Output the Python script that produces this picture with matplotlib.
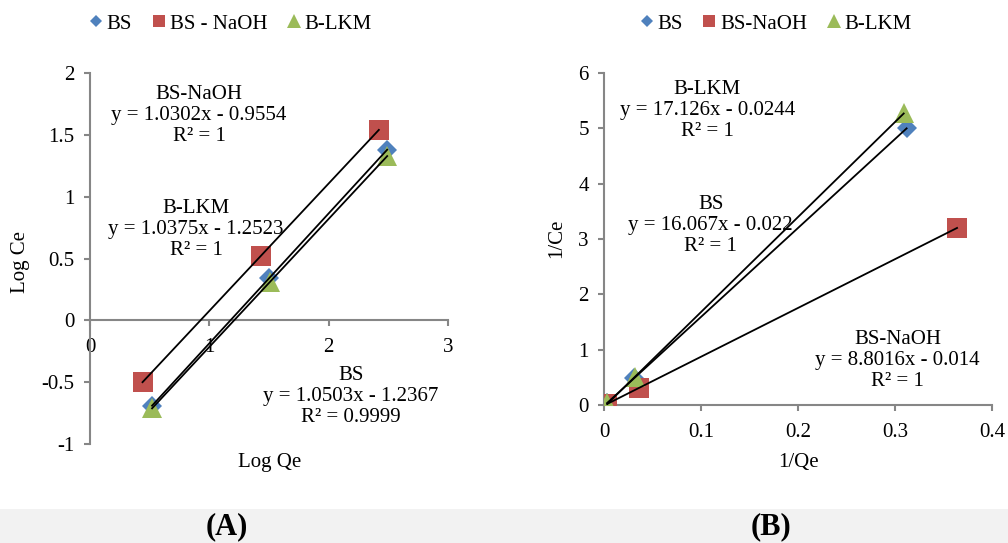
import numpy as np
import matplotlib
matplotlib.use("Agg")
import matplotlib.pyplot as plt
from matplotlib.lines import Line2D
from matplotlib.patches import Rectangle

plt.rcParams['font.family'] = ['Liberation Serif', 'DejaVu Serif']
plt.rcParams['font.size'] = 15

# (A) Freundlich: log Ce vs log Qe
log_qe_bs = [0.52, 1.50, 2.49]
log_ce_bs = [-0.69, 0.34, 1.38]
log_qe_naoh = [0.44, 1.43, 2.42]
log_ce_naoh = [-0.50, 0.52, 1.54]
log_qe_lkm = [0.52, 1.51, 2.49]
log_ce_lkm = [-0.71, 0.31, 1.33]

# (B) Langmuir: 1/Ce vs 1/Qe
inv_qe_bs = [0.0033, 0.031, 0.312]
inv_ce_bs = [0.04, 0.48, 5.00]
inv_qe_naoh = [0.0035, 0.036, 0.364]
inv_ce_naoh = [0.02, 0.31, 3.20]
inv_qe_lkm = [0.0033, 0.032, 0.309]
inv_ce_lkm = [0.03, 0.50, 5.27]

eq_a = {"BS-NaOH": "BS-NaOH\ny = 1.0302x - 0.9554\nR² = 1",
        "B-LKM": "B-LKM\ny = 1.0375x - 1.2523\nR² = 1",
        "BS": "BS\ny = 1.0503x - 1.2367\nR² = 0.9999"}
eq_b = {"B-LKM": "B-LKM\ny = 17.126x - 0.0244\nR² = 1",
        "BS": "BS\ny = 16.067x - 0.022\nR² = 1",
        "BS-NaOH": "BS-NaOH\ny = 8.8016x - 0.014\nR² = 1"}

blue = "#4F81BD"
red = "#C0504D"
green = "#9BBB59"
grey = "#868686"

fig = plt.figure(figsize=(10.08, 5.43), dpi=100)
fig.patches.append(Rectangle((0, 0), 1, 0.0626, transform=fig.transFigure,
                             facecolor="#f2f2f2", edgecolor="none", zorder=0))

ax1 = fig.add_axes([0.0893, 0.1823, 0.3552, 0.6832])
ax2 = fig.add_axes([0.5992, 0.2541, 0.3849, 0.6114])


def style_axes(ax):
    ax.patch.set_alpha(0)
    ax.spines['top'].set_visible(False)
    ax.spines['right'].set_visible(False)
    ax.spines['bottom'].set_position(('data', 0))
    for s in ['left', 'bottom']:
        ax.spines[s].set_color(grey)
        ax.spines[s].set_linewidth(1.5)
    ax.tick_params(colors=grey, labelcolor="black", length=4, width=1.5,
                   direction='out', pad=7)
    ax.tick_params(axis='x', pad=9)


def draw_series(ax, x, y, color, marker, ms):
    ax.plot(x, y, linestyle='none', marker=marker, markersize=ms,
            color=color, markeredgewidth=0, zorder=3)
    k, b = np.polyfit(x, y, 1)
    xs = np.array([min(x), max(x)])
    ax.plot(xs, k * xs + b, color="black", linewidth=1.3, zorder=4)


# panel A
draw_series(ax1, log_qe_bs, log_ce_bs, blue, 'D', 10)
draw_series(ax1, log_qe_naoh, log_ce_naoh, red, 's', 14)
draw_series(ax1, log_qe_lkm, log_ce_lkm, green, '^', 14)
ax1.set_xlim(0, 3)
ax1.set_ylim(-1, 2)
ax1.set_xticks([0, 1, 2, 3])
ax1.set_yticks([-1, -0.5, 0, 0.5, 1, 1.5, 2])
ax1.set_yticklabels(["-1", "-0.5", "0", "0.5", "1", "1.5", "2"])
style_axes(ax1)
ax1.set_xlabel("Log Qe")
ax1.set_ylabel("Log Ce")
txt_kw = dict(ha='center', va='center', multialignment='center', linespacing=1.15, zorder=5)
ax1.text(0.914, 1.657, eq_a["BS-NaOH"], **txt_kw)
ax1.text(0.889, 0.736, eq_a["B-LKM"], **txt_kw)
ax1.text(2.188, -0.614, eq_a["BS"], **txt_kw)

# panel B
draw_series(ax2, inv_qe_bs, inv_ce_bs, blue, 'D', 10)
draw_series(ax2, inv_qe_naoh, inv_ce_naoh, red, 's', 14)
draw_series(ax2, inv_qe_lkm, inv_ce_lkm, green, '^', 14)
ax2.set_xlim(0, 0.4)
ax2.set_ylim(0, 6)
ax2.set_xticks([0, 0.1, 0.2, 0.3, 0.4])
ax2.set_xticklabels(["0", "0.1", "0.2", "0.3", "0.4"])
ax2.set_yticks([0, 1, 2, 3, 4, 5, 6])
style_axes(ax2)
ax2.set_xlabel("1/Qe")
ax2.set_ylabel("1/Ce")
ax2.text(0.1067, 5.33, eq_b["B-LKM"], **txt_kw)
ax2.text(0.110, 3.25, eq_b["BS"], **txt_kw)
ax2.text(0.3026, 0.80, eq_b["BS-NaOH"], **txt_kw)

# axis label positions (figure pixels)
W, H = 1008, 543
ax1.xaxis.set_label_coords(270 / W, 1 - 463 / H, transform=fig.transFigure)
ax1.yaxis.set_label_coords(20 / W, 1 - 262 / H, transform=fig.transFigure)
ax2.xaxis.set_label_coords(798 / W, 1 - 463 / H, transform=fig.transFigure)
ax2.yaxis.set_label_coords(557 / W, 1 - 238 / H, transform=fig.transFigure)
for lab in [ax1.xaxis.label, ax2.xaxis.label, ax1.yaxis.label, ax2.yaxis.label]:
    lab.set_va('center')


def legend_handles():
    return [Line2D([], [], linestyle='none', marker='D', markersize=6, color=blue, markeredgewidth=0),
            Line2D([], [], linestyle='none', marker='s', markersize=9, color=red, markeredgewidth=0),
            Line2D([], [], linestyle='none', marker='^', markersize=10, color=green, markeredgewidth=0)]


leg_kw = dict(loc='center', ncol=3, frameon=False, handlelength=0.6,
              handletextpad=0.2, columnspacing=1.0, borderpad=0)
fig.legend(legend_handles(), ["BS", "BS - NaOH", "B-LKM"],
           bbox_to_anchor=(231 / W, 1 - 24 / H), **leg_kw)
fig.legend(legend_handles(), ["BS", "BS-NaOH", "B-LKM"],
           bbox_to_anchor=(776 / W, 1 - 24 / H), **leg_kw)

fig.text(227 / W, 1 - 527 / H, "(A)", ha='center', va='center',
         fontsize=22, fontweight='bold')
fig.text(771 / W, 1 - 527 / H, "(B)", ha='center', va='center',
         fontsize=22, fontweight='bold')

fig.savefig("out.png", dpi=100)
